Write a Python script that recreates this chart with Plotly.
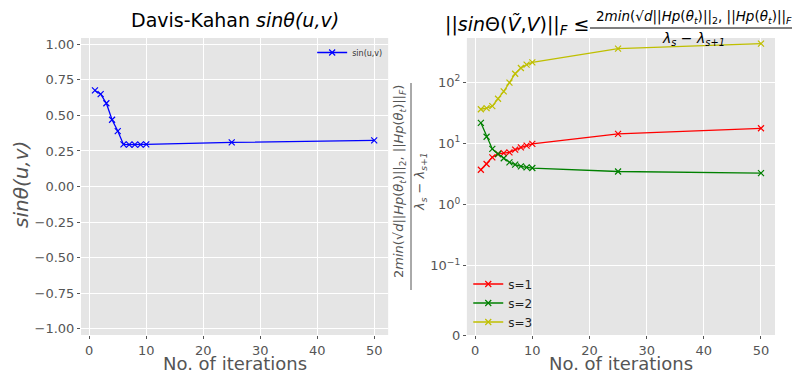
import plotly.graph_objects as go
from plotly.subplots import make_subplots

# ---- data ----
iters = [1, 2, 3, 4, 5, 6, 7, 8, 9, 10, 25, 50]
sin_uv = [0.676, 0.65, 0.586, 0.47, 0.39, 0.296, 0.295, 0.295, 0.295, 0.296, 0.31, 0.325]

bound_s1 = [3.7, 4.6, 5.9, 6.7, 6.9, 7.1, 7.9, 8.6, 9.2, 9.8, 14.3, 17.6]
bound_s2 = [21.6, 12.8, 8.1, 6.7, 5.7, 4.9, 4.5, 4.2, 4.05, 3.95, 3.47, 3.27]
bound_s3 = [36, 37.5, 40.5, 53.5, 70.5, 98, 137, 170, 193, 210, 353, 426]

left_yticks = [-1.0, -0.75, -0.5, -0.25, 0.0, 0.25, 0.5, 0.75, 1.0]
x_ticks = [0, 10, 20, 30, 40, 50]

# the "0" of the symlog axis sits on the bottom edge
LOG_BOTTOM = -2.13
LOG_TOP = 2.72
right_ytickvals = [10 ** LOG_BOTTOM, 0.1, 1, 10, 100]
right_yticktext = ["0", "10<sup>−1</sup>", "10<sup>0</sup>", "10<sup>1</sup>", "10<sup>2</sup>"]

FONT = "DejaVu Sans"
GREY = "#555555"
BG = "#E5E5E5"

# page body adds an 8px margin, so the figure is drawn 8px smaller and shifted
OFF = 8
W, H = 800 - OFF, 373 - OFF
L, R, T, B = 81 - OFF, 25, 38 - OFF, 38
PW, PH = W - L - R, H - T - B


def px(x):
    # x in page pixels -> paper coords
    return (x - OFF - L) / PW


def py(y):
    return (H - B - (y - OFF)) / PH


fig = make_subplots(rows=1, cols=2)
fig.update_xaxes(domain=[0, 0.4426], row=1, col=1)
fig.update_xaxes(domain=[0.556, 1], row=1, col=2)


def marker(color):
    return dict(symbol="x-thin", size=6, color=color, line=dict(width=1.2, color=color))


fig.add_trace(go.Scatter(
    x=iters, y=sin_uv, name="sin(u,v)", mode="lines+markers",
    line=dict(color="#0000ff", width=1.3), marker=marker("#0000ff"),
    legend="legend"), row=1, col=1)

for name, vals, color in (("s=1", bound_s1, "#ff0000"), ("s=2", bound_s2, "#008000"),
                          ("s=3", bound_s3, "#bfbf00")):
    fig.add_trace(go.Scatter(
        x=iters, y=vals, name=name, mode="lines+markers",
        line=dict(color=color, width=1.3), marker=marker(color),
        legend="legend2"), row=1, col=2)

axis_common = dict(
    showgrid=True, gridcolor="white", gridwidth=1, zeroline=False,
    ticks="outside", ticklen=3, tickcolor=GREY, showline=False,
    tickfont=dict(family=FONT, size=13, color=GREY),
)
fig.update_xaxes(range=[-1.45, 52.45], tickvals=x_ticks, **axis_common)
fig.update_yaxes(range=[-1.045, 1.045], tickvals=left_yticks,
                 ticktext=[f"{v:.2f}".replace("-", "−") for v in left_yticks],
                 row=1, col=1, **axis_common)
fig.update_yaxes(type="log", range=[LOG_BOTTOM, LOG_TOP], tickvals=right_ytickvals,
                 ticktext=right_yticktext, row=1, col=2, **axis_common)

fig.update_layout(
    width=W, height=H, margin=dict(l=L, r=R, t=T, b=B),
    paper_bgcolor="white", plot_bgcolor=BG, showlegend=True,
    font=dict(family=FONT, color=GREY),
    legend=dict(x=0.4426, xanchor="right", y=py(38), yanchor="top",
                bgcolor="rgba(0,0,0,0)", font=dict(size=8, color="#333"),
                itemwidth=30, tracegroupgap=0),
    legend2=dict(x=0.558, xanchor="left", y=-0.005, yanchor="bottom",
                 bgcolor="rgba(0,0,0,0)", font=dict(size=12, color="#222"),
                 itemwidth=30, tracegroupgap=0),
)

num = ("2<i>min</i>(√<i>d</i>||<i>Hp</i>(<i>θ<sub>t</sub></i>)||<sub>2</sub>, "
       "||<i>Hp</i>(<i>θ<sub>t</sub></i>)||<sub><i>F</i></sub>)")
den = "<i>λ<sub>s</sub></i> − <i>λ<sub>s+1</sub></i>"

ann = [
    # titles
    dict(x=0.2213, y=py(20), text="Davis-Kahan <i>sinθ(u,v)</i>",
         font=dict(size=19, color="black")),
    dict(x=px(443), y=py(25), xanchor="left",
         text="||<i>sin</i>Θ(<i>Ṽ</i>,<i>V</i>)||<sub><i>F</i></sub> ≤",
         font=dict(size=19, color="black")),
    dict(x=px(594), y=py(17), xanchor="left", text=num, font=dict(size=13.5, color="black")),
    dict(x=px(693), y=py(39), text=den, font=dict(size=14, color="black")),
    # axis titles
    dict(x=px(21), y=py(185), text="<i>sinθ(u,v)</i>", textangle=-90,
         font=dict(size=20, color=GREY)),
    dict(x=px(399), y=py(182), text=num, textangle=-90, font=dict(size=13, color=GREY)),
    dict(x=px(420), y=py(182), text=den, textangle=-90, font=dict(size=13, color=GREY)),
    dict(x=0.2213, y=py(363), text="No. of iterations", font=dict(size=18, color=GREY)),
    dict(x=px(621), y=py(363), text="No. of iterations", font=dict(size=18, color=GREY)),
]
for a in ann:
    a.setdefault("xanchor", "center")
    a.update(xref="paper", yref="paper", yanchor="middle", showarrow=False)
    fig.add_annotation(**a)

# fraction bars
fig.add_shape(type="line", xref="paper", yref="paper", x0=px(590), x1=px(800),
              y0=py(28), y1=py(28), line=dict(color="black", width=1))
fig.add_shape(type="line", xref="paper", yref="paper", x0=px(411), x1=px(411),
              y0=py(83), y1=py(290), line=dict(color=GREY, width=1))

fig.write_html("out.html")
